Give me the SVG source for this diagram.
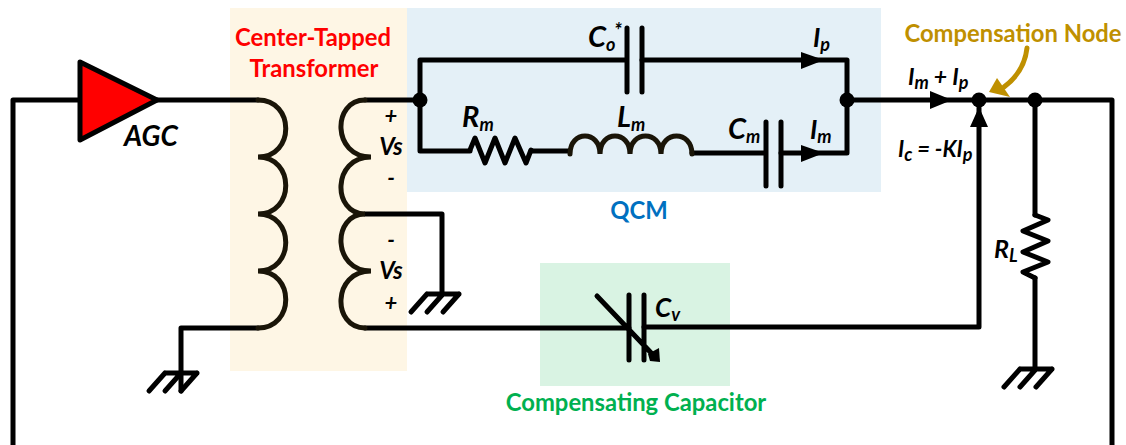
<svg xmlns="http://www.w3.org/2000/svg" width="1126" height="445" viewBox="0 0 1126 445">
<style>
.w{fill:none;stroke:#000;stroke-width:5;stroke-linecap:round;stroke-linejoin:round}
.c{fill:none;stroke:#1a1508;stroke-width:5;stroke-linecap:round}
.l{font-family:Lato,"Liberation Sans",sans-serif;font-weight:700;font-style:italic;font-size:24px;fill:#000}
.s{font-size:18px}
.t{font-family:Lato,"Liberation Sans",sans-serif;font-weight:700;font-size:23.8px;text-anchor:middle}
.d{fill:#000}
</style>
<defs>
<g id="gnd"><path class="w" d="M-16 0H16M-16 0L-32 18M0 0L-16 18M16 0L0 18"/></g>
</defs>
<g id="transformer-bg"><rect x="230" y="8" width="177" height="363" fill="#fef6e5"/></g>
<g id="qcm-bg"><rect x="407" y="8" width="474" height="184" fill="#e4f0f7"/></g>
<g id="capacitor-bg"><rect x="540" y="263" width="190" height="123" fill="#d9f3e3"/></g>
<g id="connectors">
<path class="w" d="M80 100H13V445"/>
<path class="w" d="M157 100H258"/>
<path class="w" d="M181 391V328H258"/>
<path class="w" d="M365 100H420V60H626M642 60H847V153H781M765 153H692"/>
<path class="w" d="M420 100V151H470M531 151H569"/>
<path class="w" d="M847 100H1112V445"/>
<path class="w" d="M365 214H442V294"/>
<path class="w" d="M365 328H629M644 327H979V108"/>
<path class="w" d="M1035 100V215M1035 278V369"/>
<path class="d" d="M801 52L824 60L801 69ZM801 145L824 153L801 162ZM930 91L952 100L930 109ZM979 107L988 127H970Z"/>
</g>
<g id="amplifier"><path d="M80 62L157 100L80 140Z" fill="#f00" stroke="#000" stroke-width="5" stroke-linejoin="round"/><text class="l" x="124" y="146" style="font-size:28px">AGC</text></g>
<g id="primary-coil"><path class="c" d="M258 100C295 100 295 157 258 157C295 157 295 214 258 214C295 214 295 271 258 271C295 271 295 328 258 328"/></g>
<g id="secondary-coil"><path class="c" d="M365 100C332 100 332 157 371 157C332 157 332 214 365 214C332 214 332 271 371 271C332 271 332 328 365 328"/></g>
<g id="ground1"><use href="#gnd" x="181" y="373"/></g>
<g id="ground2"><use href="#gnd" x="443" y="294"/></g>
<g id="ground3"><use href="#gnd" x="1036" y="369"/></g>
<g id="co"><path class="w" d="M627 28V92M642 28V92"/><text class="l" x="588" y="47" style="font-size:29px">C<tspan class="s" dy="4">o</tspan></text><text class="l" x="614" y="38" style="font-size:20px">*</text></g>
<g id="rm"><path class="w" d="M470 150L475 138L485 163L495 138L505 163L515 138L526 163L531 150"/><text class="l" x="462" y="127" style="font-size:29px">R<tspan class="s" dy="4">m</tspan></text></g>
<g id="lm"><path class="c" d="M570 154C570 130 600 130 600 154C600 130 630 130 630 154C630 130 661 130 661 154C661 130 692 130 692 154"/><text class="l" x="617" y="127" style="font-size:29px">L<tspan class="s" dy="4">m</tspan></text></g>
<g id="cm"><path class="w" d="M766 122V186M781 122V186"/><text class="l" x="728" y="139" style="font-size:29px">C<tspan class="s" dy="4">m</tspan></text></g>
<g id="cv"><path class="w" d="M629 295V360M644 295V360M597 296L656 358"/><path class="d" d="M648 354L659 348L660 362L650 361Z"/><text class="l" x="655" y="317" style="font-size:26px">C<tspan class="s" dy="4">v</tspan></text></g>
<g id="rl"><path class="w" d="M1035 215L1048 220L1023 231L1048 241L1023 252L1048 262L1023 272L1035 278"/><text class="l" x="994" y="258" style="font-size:25px">R<tspan class="s" dy="4">L</tspan></text></g>
<g id="junctions">
<circle class="d" cx="420" cy="100" r="7.5"/><circle class="d" cx="847" cy="100" r="7.5"/><circle class="d" cx="979" cy="100" r="7.5"/><circle class="d" cx="1035" cy="100" r="7.5"/>
</g>
<g id="labels">
<text class="t" x="313" y="46" fill="#f00">Center-Tapped</text>
<text class="t" x="314" y="77" fill="#f00">Transformer</text>
<text class="t" x="639" y="219" fill="#0070c0">QCM</text>
<text class="t" x="636" y="411" fill="#00b050">Compensating Capacitor</text>
<text class="t" x="1013" y="42" fill="#bf9000">Compensation Node</text>
<text class="l" x="391" y="124" text-anchor="middle" style="font-size:22px">+</text>
<text class="l" x="391" y="155" text-anchor="middle" style="font-size:24px">Vs</text>
<text class="l" x="391" y="186" text-anchor="middle" style="font-size:22px">-</text>
<text class="l" x="391" y="248" text-anchor="middle" style="font-size:22px">-</text>
<text class="l" x="391" y="279" text-anchor="middle" style="font-size:24px">Vs</text>
<text class="l" x="391" y="311" text-anchor="middle" style="font-size:22px">+</text>
<text class="l" x="813" y="47" style="font-size:26px">I<tspan class="s" dy="4">p</tspan></text>
<text class="l" x="810" y="139" style="font-size:26px">I<tspan class="s" dy="4">m</tspan></text>
<text class="l" x="908" y="85" style="font-size:23px">I<tspan class="s" dy="4">m</tspan><tspan dy="-4"> + I</tspan><tspan class="s" dy="4">p</tspan></text>
<text class="l" x="898" y="157" style="font-size:22px">I<tspan class="s" dy="4">c</tspan><tspan dy="-4"> = -KI</tspan><tspan class="s" dy="4">p</tspan></text>
</g>
<g id="compensation-arrow"><path d="M1027 48C1025 66 1016 78 1004 87" fill="none" stroke="#bf9000" stroke-width="5" stroke-linecap="round"/><path d="M989 92L997 78L1010 97Z" fill="#bf9000"/></g>
</svg>
